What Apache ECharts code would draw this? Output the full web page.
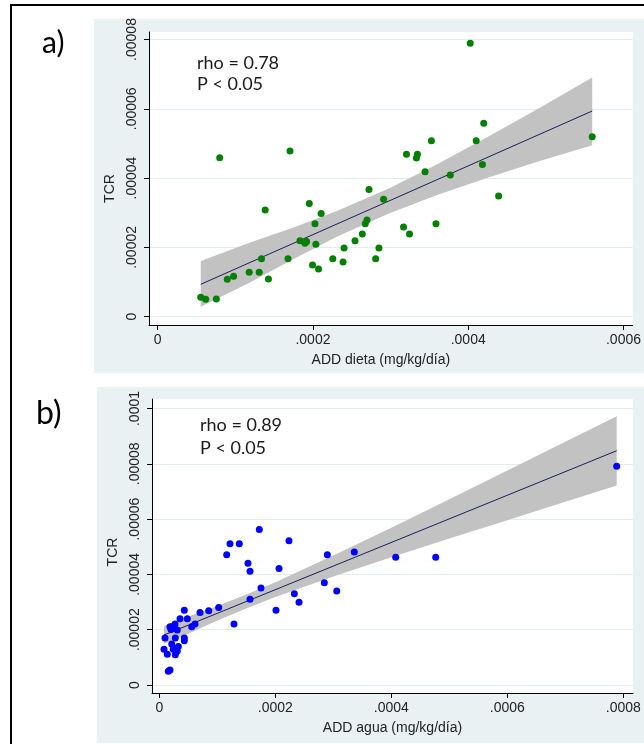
<!DOCTYPE html>
<html>
<head>
<meta charset="utf-8">
<script src="https://cdn.jsdelivr.net/npm/echarts@6/dist/echarts.min.js"></script>
<style>
  html, body { margin: 0; padding: 0; background: #fff; }
  #chart { width: 644px; height: 744px; }
</style>
</head>
<body>
<div id="chart"></div>
<script>
// a) ADD dieta (mg/kg/día) vs TCR
const dietaX = [0.555e-4, 0.619e-4, 0.756e-4, 0.799e-4, 0.897e-4, 0.978e-4, 1.179e-4, 1.308e-4, 1.337e-4, 1.385e-4,
  1.427e-4, 1.679e-4, 1.705e-4, 1.833e-4, 1.897e-4, 1.918e-4, 1.953e-4, 1.995e-4, 2.026e-4, 2.038e-4,
  2.072e-4, 2.106e-4, 2.256e-4, 2.388e-4, 2.401e-4, 2.542e-4, 2.636e-4, 2.674e-4, 2.696e-4, 2.722e-4,
  2.808e-4, 2.850e-4, 2.910e-4, 3.167e-4, 3.205e-4, 3.244e-4, 3.333e-4, 3.346e-4, 3.444e-4, 3.526e-4,
  3.585e-4, 3.769e-4, 4.026e-4, 4.103e-4, 4.183e-4, 4.200e-4, 4.392e-4, 5.597e-4]
const dietaY = [0.56e-5, 0.50e-5, 0.51e-5, 4.59e-5, 1.08e-5, 1.17e-5, 1.28e-5, 1.28e-5, 1.67e-5, 3.08e-5,
  1.09e-5, 1.67e-5, 4.78e-5, 2.19e-5, 2.12e-5, 2.17e-5, 3.27e-5, 1.49e-5, 2.68e-5, 2.09e-5,
  1.38e-5, 2.98e-5, 1.67e-5, 1.58e-5, 1.98e-5, 2.19e-5, 2.39e-5, 2.68e-5, 2.79e-5, 3.67e-5,
  1.67e-5, 1.98e-5, 3.39e-5, 2.59e-5, 4.69e-5, 2.39e-5, 4.58e-5, 4.69e-5, 4.18e-5, 5.08e-5,
  2.68e-5, 4.09e-5, 7.89e-5, 5.08e-5, 4.39e-5, 5.58e-5, 3.48e-5, 5.19e-5]
// recta ajustada e IC 95%
const dietaFitX = [0.555e-4, 5.597e-4]
const dietaFitY = [0.935e-5, 5.936e-5]
const dietaBandX = [0.555e-4, 1.2e-4, 1.696e-4, 2.3e-4, 2.978e-4, 3.6e-4, 4.26e-4, 4.9e-4, 5.597e-4]
const dietaBandHi = [1.61e-5, 2.15e-5, 2.53e-5, 3.04e-5, 3.70e-5, 4.40e-5, 5.20e-5, 6.00e-5, 6.90e-5]
const dietaBandLo = [0.29e-5, 1.00e-5, 1.60e-5, 2.30e-5, 2.98e-5, 3.51e-5, 4.02e-5, 4.48e-5, 4.95e-5]

// b) ADD agua (mg/kg/día) vs TCR
const aguaX = [7.886e-4, 4.766e-4, 4.076e-4, 3.362e-4, 2.897e-4, 2.236e-4, 1.724e-4, 1.219e-4, 1.379e-4, 1.162e-4,
  1.529e-4, 1.564e-4, 2.064e-4, 1.753e-4, 1.564e-4, 1.288e-4, 2.012e-4, 2.328e-4, 2.409e-4, 2.845e-4,
  3.059e-4, 1.024e-4, 0.852e-4, 0.702e-4, 0.431e-4, 0.357e-4, 0.483e-4, 0.559e-4, 0.616e-4, 0.431e-4,
  0.431e-4, 0.276e-4, 0.098e-4, 0.184e-4, 0.231e-4, 0.271e-4, 0.202e-4, 0.310e-4, 0.214e-4, 0.328e-4,
  0.310e-4, 0.241e-4, 0.276e-4, 0.138e-4, 0.081e-4, 0.184e-4, 0.155e-4]
const aguaY = [7.91e-5, 4.62e-5, 4.62e-5, 4.81e-5, 4.71e-5, 5.22e-5, 5.62e-5, 5.11e-5, 5.11e-5, 4.71e-5,
  4.40e-5, 4.11e-5, 4.21e-5, 3.51e-5, 3.10e-5, 2.21e-5, 2.70e-5, 3.30e-5, 2.99e-5, 3.70e-5,
  3.40e-5, 2.80e-5, 2.69e-5, 2.62e-5, 2.70e-5, 2.40e-5, 2.40e-5, 2.11e-5, 2.21e-5, 1.70e-5,
  1.60e-5, 1.70e-5, 1.70e-5, 2.11e-5, 2.11e-5, 2.21e-5, 2.01e-5, 1.99e-5, 1.48e-5, 1.39e-5,
  1.23e-5, 1.29e-5, 1.09e-5, 1.11e-5, 1.29e-5, 0.54e-5, 0.50e-5]
const aguaFitX = [0.081e-4, 7.886e-4]
const aguaFitY = [1.808e-5, 8.474e-5]
const aguaBandX = [0.081e-4, 0.5e-4, 1.0e-4, 1.5e-4, 2.0e-4, 3.0e-4, 4.0e-4, 5.0e-4, 6.0e-4, 7.0e-4, 7.886e-4]
const aguaBandHi = [2.13e-5, 2.48e-5, 2.86e-5, 3.27e-5, 3.72e-5, 4.68e-5, 5.69e-5, 6.72e-5, 7.76e-5, 8.80e-5, 9.72e-5]
const aguaBandLo = [1.49e-5, 1.85e-5, 2.33e-5, 2.77e-5, 3.18e-5, 3.92e-5, 4.62e-5, 5.30e-5, 5.96e-5, 6.63e-5, 7.22e-5]

// marcas de los ejes
const xTicksA = [0, 0.0002, 0.0004, 0.0006]
const yTicksA = [0, 0.00002, 0.00004, 0.00006, 0.00008]
const xTicksB = [0, 0.0002, 0.0004, 0.0006, 0.0008]
const yTicksB = [0, 0.00002, 0.00004, 0.00006, 0.00008, 0.0001]

const myChart = echarts.init(document.getElementById('chart'))

const labelFont = { fontFamily: 'Liberation Sans', fontSize: 14, color: '#222' }
// estilo Stata: .0002 en vez de 0.0002
const fmt = v => (v === 0 ? '0' : String(v).replace(/^0/, ''))

function xAxisCfg(idx, min, max, ticks, name, pad) {
  return {
    type: 'value',
    gridIndex: idx,
    min: min,
    max: max,
    name: name,
    nameLocation: 'middle',
    nameGap: 28,
    nameTextStyle: Object.assign({ padding: pad }, labelFont),
    axisLine: { show: true, onZero: false, lineStyle: { color: '#000', width: 1 } },
    axisTick: { show: true, length: 5, customValues: ticks, lineStyle: { color: '#000' } },
    axisLabel: Object.assign({ customValues: ticks, formatter: fmt, margin: 8 }, labelFont),
    splitLine: { show: false }
  }
}

function yAxisCfg(idx, min, max, ticks, pad) {
  return {
    type: 'value',
    gridIndex: idx,
    min: min,
    max: max,
    name: 'TCR',
    nameLocation: 'middle',
    nameGap: 31,
    nameTextStyle: Object.assign({ padding: pad }, labelFont),
    axisLine: { show: true, onZero: false, lineStyle: { color: '#000', width: 1 } },
    axisTick: { show: true, length: 5, customValues: ticks, lineStyle: { color: '#000' } },
    axisLabel: Object.assign({ customValues: ticks, formatter: fmt, margin: 10, rotate: 90 }, labelFont),
    splitLine: { show: true, lineStyle: { color: '#e3ecef', width: 1 } }
  }
}

// banda de confianza como polígono
function bandSeries(idx, bx, lo, hi) {
  return {
    type: 'custom',
    xAxisIndex: idx,
    yAxisIndex: idx,
    silent: true,
    z: 1,
    data: [[bx[0], lo[0]]],
    renderItem(params, api) {
      const pts = []
      for (let i = 0; i < bx.length; i++) pts.push(api.coord([bx[i], hi[i]]))
      for (let i = bx.length - 1; i >= 0; i--) pts.push(api.coord([bx[i], lo[i]]))
      return { type: 'polygon', shape: { points: pts }, style: { fill: '#c2c2c2' } }
    }
  }
}

function fitSeries(idx, fx, fy) {
  return {
    type: 'line',
    xAxisIndex: idx,
    yAxisIndex: idx,
    silent: true,
    z: 2,
    showSymbol: false,
    lineStyle: { color: '#1b1f5c', width: 1 },
    data: fx.map((x, i) => [x, fy[i]])
  }
}

function scatterSeries(idx, xs, ys, color) {
  return {
    type: 'scatter',
    xAxisIndex: idx,
    yAxisIndex: idx,
    z: 3,
    symbolSize: 7,
    itemStyle: { color: color, opacity: 1 },
    data: xs.map((x, i) => [x, ys[i]])
  }
}

const textStyle = { fontFamily: 'Lato', fontSize: 18, fill: '#1a1a1a', verticalAlign: 'middle' }

const option = {
  animation: false,
  backgroundColor: '#fff',
  graphic: [
    // fondos de los paneles
    { type: 'rect', z: -10, shape: { x: 94, y: 19, width: 560, height: 354 }, style: { fill: '#eaf1f3' } },
    { type: 'rect', z: -10, shape: { x: 97, y: 387, width: 560, height: 356 }, style: { fill: '#eaf1f3' } },
    // marco exterior
    { type: 'rect', z: 50, shape: { x: 11, y: 5, width: 700, height: 800 }, style: { fill: 'none', stroke: '#000', lineWidth: 2 } },
    { type: 'text', z: 50, left: 42, top: 28, style: { text: 'a)', fontFamily: 'Lato', fontSize: 30, fill: '#000' } },
    { type: 'text', z: 50, left: 36, top: 398, style: { text: 'b)', fontFamily: 'Lato', fontSize: 32, fill: '#000' } },
    { type: 'text', z: 50, x: 197, y: 63, style: Object.assign({ text: 'rho = 0.78' }, textStyle) },
    { type: 'text', z: 50, x: 197, y: 84, style: Object.assign({ text: 'P < 0.05' }, textStyle) },
    { type: 'text', z: 50, x: 200, y: 425, style: Object.assign({ text: 'rho = 0.89' }, textStyle) },
    { type: 'text', z: 50, x: 200, y: 448, style: Object.assign({ text: 'P < 0.05' }, textStyle) }
  ],
  grid: [
    { left: 149, top: 32, width: 486, height: 293, show: true, backgroundColor: '#fff', borderWidth: 0 },
    { left: 152, top: 399, width: 481, height: 294, show: true, backgroundColor: '#fff', borderWidth: 0 }
  ],
  xAxis: [
    xAxisCfg(0, -1.115e-5, 6.119e-4, xTicksA, 'ADD dieta (mg/kg/día)', [0, 20, 0, 0]),
    xAxisCfg(1, -1.259e-5, 8.167e-4, xTicksB, 'ADD agua (mg/kg/día)', [0, 0, 0, 0])
  ],
  yAxis: [
    yAxisCfg(0, -2.395e-6, 8.216e-5, yTicksA, [0, 20, 0, 0]),
    yAxisCfg(1, -2.893e-6, 1.0344e-4, yTicksB, [0, 12, 0, 0])
  ],
  series: [
    bandSeries(0, dietaBandX, dietaBandLo, dietaBandHi),
    fitSeries(0, dietaFitX, dietaFitY),
    scatterSeries(0, dietaX, dietaY, '#008000'),
    bandSeries(1, aguaBandX, aguaBandLo, aguaBandHi),
    fitSeries(1, aguaFitX, aguaFitY),
    scatterSeries(1, aguaX, aguaY, '#0000ff')
  ]
}

myChart.setOption(option)
</script>
</body>
</html>
